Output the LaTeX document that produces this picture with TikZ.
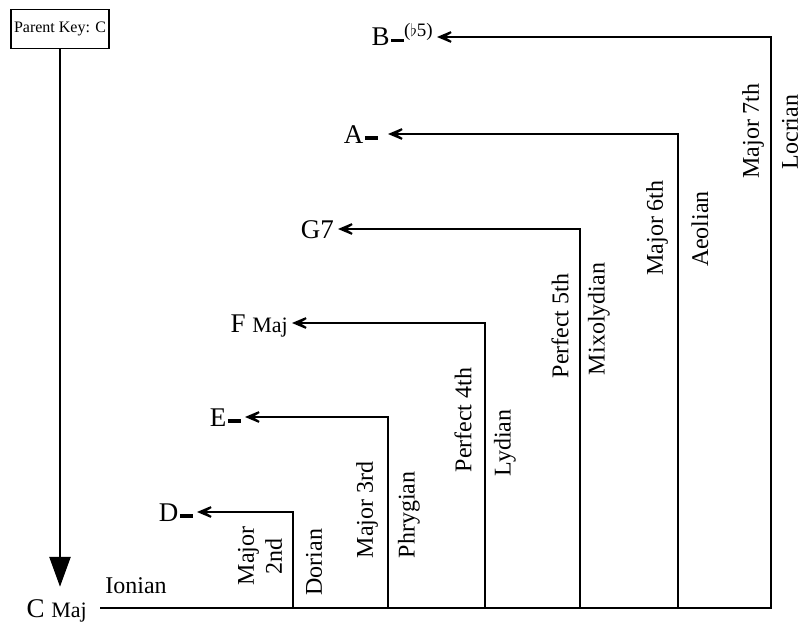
\documentclass[tikz,border=0pt]{standalone}
\usepackage{fontspec}
\setmainfont{Liberation Serif}
\usepackage{tikz}
\usetikzlibrary{arrows.meta}
\newcommand{\mn}{\kern1.5pt\rule[3.5pt]{13pt}{3.2pt}}
\newcommand{\minmaj}{{\fontsize{22}{24}\selectfont Maj}}
\newcommand{\flatfive}{\raisebox{9pt}{\fontsize{19}{20}\selectfont($\flat$5)}}

\begin{document}
\begin{tikzpicture}[
					x=1pt, y=-1pt,
					font=\fontsize{24}{28}\selectfont,
					keybox/.style={draw, line width=1.6pt, minimum width=98pt, minimum height=39pt, inner sep=0pt,
						font=\fontsize{16}{18}\selectfont},
					chord/.style={anchor=east, inner xsep=4pt, inner ysep=2pt, text height=18pt, text depth=0pt,
						font=\fontsize{27}{30}\selectfont},
					lbl/.style={rotate=90, inner sep=0pt, align=center},
					arr/.style={-{Stealth[length=26pt, width=22pt, inset=18pt]}, line width=2.6pt},
					down/.style={-{Triangle[length=30pt, width=21pt]}, line width=2.6pt}
					]
					\useasboundingbox (0,0) rectangle (803,623);
					
					\node[keybox] (key)  at (60,29) {Parent Key: C};
					\node[chord]  (cmaj) at (91,608) {C \minmaj};
					\node         (ionian) at (136,586) {Ionian};
					
					\node[chord] (d) at (197,512) {D\mn};
					\node[chord] (e) at (245,417) {E\mn};
					\node[chord] (f) at (292,323) {F \minmaj};
					\node[chord] (g) at (338,229) {G7};
					\node[chord, inner xsep=10pt] (a) at (388,134) {A\mn};
					\node[chord] (b) at (437,37)  {B\mn\flatfive};
					
					\coordinate (bd) at (293,608);
					\coordinate (be) at (388,608);
					\coordinate (bf) at (485,608);
					\coordinate (bg) at (580,608);
					\coordinate (ba) at (678,608);
					\coordinate (bb) at (771,608);
					
					\draw[down, shorten >=10pt] (key.south) -- (key.south |- cmaj.north);
					\draw[arr, shorten <=9pt]  (cmaj.east) -- (bb) |- (b);
					\draw[arr]  (bd) |- (d);
					\draw[arr]  (be) |- (e);
					\draw[arr]  (bf) |- (f);
					\draw[arr]  (bg) |- (g);
					\draw[arr]  (ba) |- (a);
					
					\node[lbl] (int2) at (260,556) {Major\\2nd};
					\node[lbl] (dorian) at (314,562) {Dorian};
					\node[lbl] (int3) at (367,510) {Major 3rd};
					\node[lbl] (phrygian) at (409,515) {Phrygian};
					\node[lbl] (int4) at (463,420) {Perfect 4th};
					\node[lbl] (lydian) at (505,443) {Lydian};
					\node[lbl] (int5) at (560,326) {Perfect 5th};
					\node[lbl] (mixo) at (599,319) {Mixolydian};
					\node[lbl] (int6) at (657,228) {Major 6th};
					\node[lbl] (aeolian) at (700,229) {Aeolian};
					\node[lbl] (int7) at (753,131) {Major 7th};
					\node[lbl] (locrian) at (790,132) {Locrian};
				\end{tikzpicture}
\end{document}
